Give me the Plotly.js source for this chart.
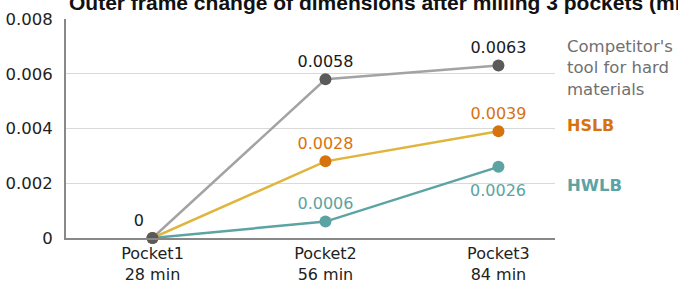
<!DOCTYPE html>
<html>
<head>
<meta charset="utf-8">
<script src="https://cdn.plot.ly/plotly-3.0.1.min.js"></script>
<style>html,body{margin:0;padding:0;background:#fff;}#chart{width:678px;height:282px;}</style>
</head>
<body>
<div id="chart"></div>
<script>
const categories = ["Pocket1<br>28 min", "Pocket2<br>56 min", "Pocket3<br>84 min"];
const competitor = [0, 0.0058, 0.0063];
const hslb = [0, 0.0028, 0.0039];
const hwlb = [0, 0.0006, 0.0026];
const yTicks = [0, 0.002, 0.004, 0.006, 0.008];
const yTickLabels = ["0", "0.002", "0.004", "0.006", "0.008"];
const seriesNames = ["Competitor's<br>tool for hard<br>materials", "HSLB", "HWLB"];
const titleText = "Outer frame change of dimensions after milling 3 pockets (mm)";

const FONT = "DejaVu Sans";
const fmt = v => String(v);
const TEAL = "#5ca3a3", ORANGE = "#d7730f";

const traces = [
  {
    x: categories, y: hwlb, mode: "lines+markers+text", type: "scatter",
    line: {color: TEAL, width: 2.5},
    marker: {color: TEAL, size: 12},
    text: hwlb.map((v, i) => i === 1 ? fmt(v) : ""),
    textposition: "top center",
    textfont: {family: FONT, size: 16, color: TEAL},
    cliponaxis: false, hoverinfo: "none"
  },
  {
    x: categories, y: hslb, mode: "lines+markers+text", type: "scatter",
    line: {color: "#dfb53c", width: 2.5},
    marker: {color: ORANGE, size: 12},
    text: hslb.map((v, i) => i === 0 ? "" : fmt(v)),
    textposition: "top center",
    textfont: {family: FONT, size: 16, color: ORANGE},
    cliponaxis: false, hoverinfo: "none"
  },
  {
    x: categories, y: competitor, mode: "lines+markers+text", type: "scatter",
    line: {color: "#a3a3a3", width: 2.5},
    marker: {color: "#5a5a5a", size: 12},
    text: competitor.map(fmt),
    textposition: ["top left", "top center", "top center"],
    textfont: {family: FONT, size: 16, color: "#1a1a1a"},
    cliponaxis: false, hoverinfo: "none"
  }
];

const layout = {
  width: 678, height: 282,
  margin: {l: 66, r: 123, t: 19, b: 44},
  paper_bgcolor: "#fff", plot_bgcolor: "#fff",
  showlegend: false,
  font: {family: FONT, size: 16, color: "#222"},
  title: {
    text: titleText,
    font: {family: "Liberation Sans", size: 21, weight: "bold", color: "#111"},
    xref: "container", x: 69/678, xanchor: "left",
    yref: "container", y: 1 - 10/282, yanchor: "bottom"
  },
  xaxis: {
    type: "category", range: [-0.5, 2.327],
    showgrid: false, zeroline: false,
    showline: true, linecolor: "#888", linewidth: 1.5,
    ticks: "", tickfont: {family: FONT, size: 16, color: "#222"}
  },
  yaxis: {
    range: [0, 0.008], tickvals: yTicks, ticktext: yTickLabels,
    showgrid: true, gridcolor: "#d9d9d9", gridwidth: 1,
    zeroline: false, showline: true, linecolor: "#888", linewidth: 2,
    ticks: "", ticklabelstandoff: 8,
    tickfont: {family: FONT, size: 16.5, color: "#222"}
  },
  annotations: [
    {xref: "paper", x: 1, xshift: 10, xanchor: "left", yref: "y", y: 0.0062, yanchor: "middle",
     text: seriesNames[0], showarrow: false, align: "left",
     font: {family: FONT, size: 16.5, color: "#707070"}},
    {xref: "paper", x: 1, xshift: 10, xanchor: "left", yref: "y", y: 0.00412, yanchor: "middle",
     text: "<b>" + seriesNames[1] + "</b>", showarrow: false, align: "left",
     font: {family: FONT, size: 16, color: ORANGE}},
    {xref: "paper", x: 1, xshift: 10, xanchor: "left", yref: "y", y: 0.00193, yanchor: "middle",
     text: "<b>" + seriesNames[2] + "</b>", showarrow: false, align: "left",
     font: {family: FONT, size: 16.5, color: TEAL}},
    {xref: "x", x: categories[2], yref: "y", y: hwlb[2], yshift: -24, yanchor: "middle",
     text: fmt(hwlb[2]), showarrow: false,
     font: {family: FONT, size: 16, color: TEAL}}
  ]
};

Plotly.newPlot("chart", traces, layout, {displayModeBar: false, staticPlot: true});
</script>
</body>
</html>
